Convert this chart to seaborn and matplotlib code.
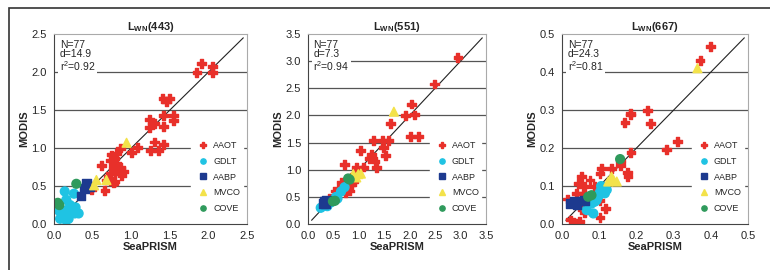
import pandas as pd
import matplotlib.pyplot as plt
import seaborn as sns
from matplotlib.patches import Rectangle

# ---- datos (SeaPRISM, MODIS) ----
sites = ['AAOT', 'GDLT', 'AABP', 'MVCO', 'COVE']
colors = {'AAOT': '#e8302a', 'GDLT': '#1fc3e3', 'AABP': '#1d3a8f',
          'MVCO': '#f3e24a', 'COVE': '#2f9a5c'}
markers = {'AAOT': 'P', 'GDLT': 'o', 'AABP': 's', 'MVCO': '^', 'COVE': 'o'}

# Lwn(443)
aaot_443_x = [1.85, 1.91, 2.05, 2.05, 1.41, 1.50, 1.46, 1.42, 1.55, 1.55, 1.42, 1.24, 1.30, 1.24,
              1.30, 1.25, 1.35, 1.42, 1.08, 1.00, 0.86, 0.81, 0.75, 0.79, 0.73, 0.62, 0.77, 0.73,
              0.79, 0.83, 0.88, 0.90, 0.68, 0.77, 0.66, 0.49, 0.81, 0.86, 0.78, 0.70]
aaot_443_y = [1.99, 2.11, 2.07, 1.99, 1.65, 1.65, 1.61, 1.43, 1.43, 1.36, 1.28, 1.38, 1.32, 1.27,
              1.08, 0.97, 0.97, 1.05, 1.01, 0.94, 1.00, 0.93, 0.91, 0.86, 0.84, 0.77, 0.75, 0.67,
              0.67, 0.71, 0.64, 0.69, 0.58, 0.54, 0.44, 0.45, 0.80, 0.75, 0.56, 0.62]
gdlt_443_x = [0.06, 0.14, 0.26, 0.16, 0.21, 0.12, 0.14, 0.19, 0.27, 0.32, 0.23, 0.08, 0.10, 0.28, 0.16]
gdlt_443_y = [0.18, 0.43, 0.40, 0.32, 0.25, 0.18, 0.11, 0.07, 0.14, 0.14, 0.18, 0.07, 0.14, 0.22, 0.05]
aabp_443_x = [0.35, 0.42, 0.46, 0.40]
aabp_443_y = [0.37, 0.54, 0.49, 0.47]
mvco_443_x = [0.94, 0.68, 0.55, 0.52]
mvco_443_y = [1.07, 0.58, 0.58, 0.51]
cove_443_x = [0.05, 0.07, 0.29]
cove_443_y = [0.28, 0.25, 0.53]

# Lwn(551)
aaot_551_x = [2.95, 2.49, 2.03, 2.09, 1.92, 1.63, 2.01, 2.17, 1.28, 1.47, 1.58, 1.48, 1.53, 1.25,
              1.32, 1.35, 1.24, 1.04, 0.72, 0.95, 0.92, 0.89, 0.76, 0.66, 0.59, 0.53, 0.43, 0.79,
              0.86, 0.82, 0.74, 0.95, 1.10, 1.20]
aaot_551_y = [3.07, 2.58, 2.21, 2.01, 2.00, 1.85, 1.62, 1.61, 1.54, 1.54, 1.54, 1.41, 1.26, 1.29,
              1.16, 1.04, 1.23, 1.35, 1.10, 1.04, 0.92, 0.79, 0.67, 0.76, 0.64, 0.61, 0.48, 0.79,
              0.73, 0.61, 0.58, 0.92, 1.05, 1.20]
gdlt_551_x = [0.25, 0.33, 0.38, 0.45, 0.55, 0.58, 0.72, 0.65, 0.30]
gdlt_551_y = [0.30, 0.36, 0.33, 0.40, 0.50, 0.47, 0.68, 0.60, 0.33]
aabp_551_x = [0.33, 0.30, 0.36, 0.35]
aabp_551_y = [0.42, 0.38, 0.43, 0.38]
mvco_551_x = [1.69, 0.99, 0.95, 1.04, 0.89]
mvco_551_y = [2.07, 0.92, 0.86, 0.93, 0.92]
cove_551_x = [0.82, 0.79, 0.49, 0.53]
cove_551_y = [0.82, 0.84, 0.42, 0.43]

# Lwn(667)
aaot_667_x = [0.398, 0.371, 0.229, 0.237, 0.169, 0.183, 0.184, 0.281, 0.310, 0.185, 0.175, 0.177,
              0.156, 0.156, 0.106, 0.102, 0.052, 0.061, 0.044, 0.075, 0.088, 0.014, 0.039, 0.034,
              0.048, 0.088, 0.102, 0.117, 0.061, 0.102, 0.023, 0.048, 0.037, 0.133, 0.058]
aaot_667_y = [0.467, 0.430, 0.299, 0.265, 0.268, 0.292, 0.287, 0.197, 0.217, 0.188, 0.136, 0.125,
              0.164, 0.153, 0.147, 0.134, 0.125, 0.098, 0.107, 0.116, 0.098, 0.066, 0.081, 0.054,
              0.046, 0.068, 0.063, 0.041, 0.031, 0.018, 0.011, 0.006, 0.002, 0.147, 0.081]
gdlt_667_x = [0.066, 0.084, 0.088, 0.097, 0.102, 0.111, 0.093, 0.079, 0.115, 0.075, 0.120, 0.105]
gdlt_667_y = [0.037, 0.028, 0.059, 0.072, 0.085, 0.098, 0.063, 0.054, 0.081, 0.072, 0.090, 0.100]
aabp_667_x = [0.021, 0.034, 0.048, 0.061, 0.040]
aabp_667_y = [0.054, 0.059, 0.061, 0.063, 0.050]
mvco_667_x = [0.364, 0.124, 0.133, 0.147, 0.138]
mvco_667_y = [0.410, 0.112, 0.125, 0.112, 0.116]
cove_667_x = [0.156, 0.070, 0.079]
cove_667_y = [0.171, 0.072, 0.076]

panels = [
    ('443', 2.5, 0.5, '14.9', '0.92',
     [(aaot_443_x, aaot_443_y), (gdlt_443_x, gdlt_443_y), (aabp_443_x, aabp_443_y),
      (mvco_443_x, mvco_443_y), (cove_443_x, cove_443_y)]),
    ('551', 3.5, 0.5, '7.3', '0.94',
     [(aaot_551_x, aaot_551_y), (gdlt_551_x, gdlt_551_y), (aabp_551_x, aabp_551_y),
      (mvco_551_x, mvco_551_y), (cove_551_x, cove_551_y)]),
    ('667', 0.5, 0.1, '24.3', '0.81',
     [(aaot_667_x, aaot_667_y), (gdlt_667_x, gdlt_667_y), (aabp_667_x, aabp_667_y),
      (mvco_667_x, mvco_667_y), (cove_667_x, cove_667_y)]),
]

sns.set_style('white')
plt.rcParams['font.family'] = ['Liberation Sans', 'DejaVu Sans']
plt.rcParams['mathtext.fontset'] = 'custom'
plt.rcParams['mathtext.rm'] = 'Liberation Sans'
plt.rcParams['mathtext.bf'] = 'Liberation Sans:bold'

fig = plt.figure(figsize=(7.7, 2.7), dpi=100)
boxes = [(0.070, 0.251), (0.400, 0.231), (0.730, 0.2415)]

for (wl, vmax, step, d, r2, data), (left, width) in zip(panels, boxes):
    ax = fig.add_axes([left, 0.170, width, 0.704])

    rows = []
    for site, (xs, ys) in zip(sites, data):
        for xv, yv in zip(xs, ys):
            rows.append({'SeaPRISM': xv, 'MODIS': yv, 'site': site})
    df = pd.DataFrame(rows)

    ticks = [round(i * step, 2) for i in range(int(round(vmax / step)) + 1)]
    for t in ticks[1:-1]:
        ax.axhline(t, color='#555555', lw=0.9, zorder=0)

    ax.plot([0.02 * vmax, 0.98 * vmax], [0.02 * vmax, 0.98 * vmax], color='#222222', lw=0.8, zorder=1)

    sns.scatterplot(data=df, x='SeaPRISM', y='MODIS', hue='site', style='site',
                    palette=colors, markers=markers, hue_order=sites, style_order=sites,
                    s=40, edgecolor='face', linewidth=1.0, ax=ax, zorder=2)

    ax.set_xlim(0, vmax)
    ax.set_ylim(0, vmax)
    ax.set_xticks(ticks)
    ax.set_yticks(ticks)
    ax.set_xticklabels([f'{t:.1f}' for t in ticks], fontsize=8)
    ax.set_yticklabels([f'{t:.1f}' for t in ticks], fontsize=8)
    ax.tick_params(axis='both', direction='out', length=3, width=0.8, color='#444444', pad=2)
    ax.set_xlabel('SeaPRISM', fontsize=8, fontweight='bold', labelpad=1)
    ax.set_ylabel('MODIS', fontsize=8, fontweight='bold', labelpad=2)
    ax.set_title(r'$\mathbf{L_{WN}}$' + f'({wl})', fontsize=8, fontweight='bold', pad=3)
    for side in ['top', 'right']:
        ax.spines[side].set_color('#aaaaaa')
        ax.spines[side].set_linewidth(0.8)
    for side in ['left', 'bottom']:
        ax.spines[side].set_color('#444444')
        ax.spines[side].set_linewidth(0.8)

    ax.text(0.03, 0.97, f'N=77\nd={d}\n' + r'r$^2$' + f'={r2}', transform=ax.transAxes,
            ha='left', va='top', fontsize=7.5, linespacing=0.95,
            bbox=dict(facecolor='white', edgecolor='none', pad=1), zorder=3)

    leg = ax.legend(loc='lower right', bbox_to_anchor=(1.0, 0.02), fontsize=6.5, frameon=True,
                    facecolor='white', edgecolor='white', framealpha=1, markerscale=0.6,
                    handletextpad=0.1, labelspacing=0.75, borderpad=0.3, title=None)
    leg.set_zorder(4)

# marco exterior
fig.patches.append(Rectangle((0.012, -0.05), 1.05, 1.02, transform=fig.transFigure,
                             fill=False, edgecolor='#333333', lw=1.2))

plt.savefig('out.png', dpi=100)
